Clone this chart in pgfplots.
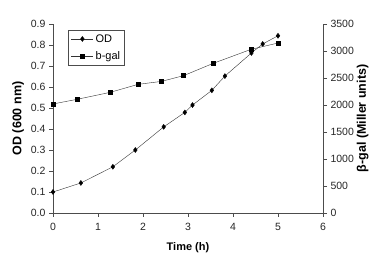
\documentclass[border=0pt]{standalone}
\usepackage{fontspec}
\setmainfont{Liberation Sans}
\usepackage{pgfplots}
\pgfplotsset{compat=1.18}
\begin{document}
\begin{tikzpicture}
\pgfplotsset{every axis/.append style={scale only axis, width=270pt, height=189pt, xmin=0, xmax=6,
  font=\fontsize{10.5}{12}\selectfont, tick style={black!70}, axis line style={black!70},
  tick align=outside, major tick length=4pt, /pgf/number format/assume math mode=true,
  /pgf/number format/1000 sep={}, tick label style={black!85}}}
\begin{axis}[axis x line*=bottom, axis y line*=left, ymin=0, ymax=0.9,
  ytick={0,0.1,0.2,0.3,0.4,0.5,0.6,0.7,0.8,0.9}, xtick={0,1,2,3,4,5,6},
  yticklabel style={/pgf/number format/.cd, fixed, fixed zerofill, precision=1},
  xticklabel style={yshift=-3pt},
  xlabel={\fontsize{11}{12}\selectfont\textbf{Time (h)}},
  xlabel style={yshift=-5pt},
  ylabel={\fontsize{12.5}{14}\selectfont\textbf{OD (600 nm)}}]
\addplot[black!80, mark=diamond*, mark size=2.5pt, mark options={black}] coordinates {
(0,0.10)(0.62,0.143)(1.33,0.22)(1.83,0.30)(2.46,0.41)(2.93,0.479)(3.1,0.514)(3.53,0.584)(3.82,0.652)(4.41,0.762)(4.66,0.805)(5.0,0.844)};
\coordinate (bl) at (rel axis cs:0,0);
\coordinate (tr) at (rel axis cs:1,1);
\end{axis}
\begin{axis}[axis x line=none, axis y line*=right, ymin=0, ymax=3500,
  ytick={0,500,1000,1500,2000,2500,3000,3500},
  ylabel={\fontsize{12.5}{14}\selectfont\textbf{β-gal (Miller units)}},
  ylabel shift=-4pt,
  legend style={at={(0.057,0.97)}, anchor=north west, draw=black!70, font=\fontsize{11}{12}\selectfont, row sep=4pt, inner sep=2.5pt},
  legend cell align=left,
  legend image code/.code={\draw[mark repeat=2,mark phase=2] plot coordinates {(0cm,0cm)(0.39cm,0cm)(0.78cm,0cm)};}]
\addlegendimage{black!80, mark=diamond*, mark size=2.5pt, mark options={black}}
\addlegendentry{OD}
\addplot[black!80, mark=square*, mark size=2pt, mark options={black}] coordinates {
(0,2019)(0.53,2104)(1.27,2234)(1.89,2382)(2.41,2437)(2.9,2543)(3.56,2771)(4.4,3030)(5.0,3148)};
\addlegendentry{b-gal}
\end{axis}
\pgfresetboundingbox
\path[use as bounding box] ([shift={(-53pt,-60pt)}]bl) rectangle ([shift={(59pt,24pt)}]tr);
\end{tikzpicture}
\end{document}
